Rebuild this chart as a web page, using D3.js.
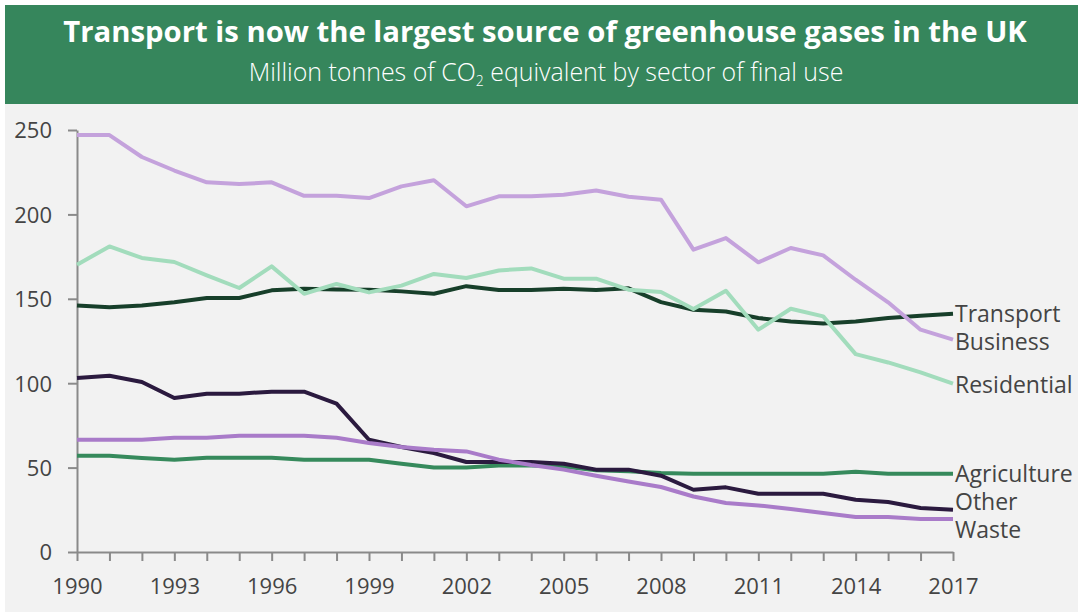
<html>
  <head>
    <title>UK greenhouse gases by sector</title>
    <script src="https://cdnjs.cloudflare.com/ajax/libs/d3/7.8.5/d3.min.js"></script>
    <meta name="viewport" content="initial-scale=1.0, width=device-width" />
  </head>
  <body>
    <svg id="chart"></svg>

    <style>
      body {
        margin: 0;
        background: #ffffff;
        font-family: 'Open Sans', sans-serif;
      }

      #chart {
        display: block;
      }

      .axis path, .axis line {
        stroke: #8a8a8a;
        stroke-width: 2px;
      }

      .axis text {
        fill: #444444;
        font-size: 22px;
        font-family: 'Open Sans', sans-serif;
      }

      .series {
        fill: none;
        stroke-width: 4px;
        stroke-linejoin: round;
      }

      .label {
        fill: #444444;
        font-size: 23px;
      }
    </style>

    <script>
      // Data (million tonnes CO2e)
      const years = d3.range(1990, 2018);
      const yTicks = [0, 50, 100, 150, 200, 250];
      const xTickLabels = [1990, 1993, 1996, 1999, 2002, 2005, 2008, 2011, 2014, 2017];

      const sectors = ['Transport', 'Business', 'Residential', 'Agriculture', 'Other', 'Waste'];
      const colors = ['#173f2a', '#c4a2dc', '#a2dcbc', '#368a5c', '#2b1a3f', '#a97bc9'];

      const transport = [146, 145, 146, 148, 150.5, 150.5, 155, 156, 155.5, 155.4, 154.4, 153, 157.5, 155.2,
                         155.2, 156, 155.2, 156.2, 148, 143.5, 142.5, 138.6, 136.6, 135.4, 136.6, 138.6, 140, 141.2];
      const business = [247, 247, 234, 226, 219, 218, 219, 211, 211, 209.7, 216.6, 220.2, 204.8, 210.7,
                        210.7, 211.7, 214.2, 210.5, 208.7, 179.1, 186, 171.6, 180.1, 175.7, 161.3, 147.9, 131.7, 125.8];
      const residential = [170.2, 181, 174.2, 171.8, 163.9, 156.4, 169.2, 153, 158.8, 153.8, 157.8, 164.7, 162.3, 166.8,
                           168, 161.9, 161.9, 155.4, 154, 144, 154.8, 131.7, 144.1, 139.6, 117.2, 112.3, 106.4, 99.7];
      const agriculture = [57, 57, 55.7, 54.7, 55.9, 55.9, 55.9, 54.7, 54.7, 54.7, 52.3, 50.1, 50.1, 51.3,
                           51.3, 50.7, 48.4, 47.8, 46.8, 46.4, 46.4, 46.4, 46.4, 46.4, 47.6, 46.4, 46.4, 46.4];
      const other = [103.1, 104.4, 100.7, 91.2, 93.8, 93.8, 95, 95, 87.9, 66.5, 62.2, 58.6, 53.3, 53.3,
                     53.3, 52.3, 48.8, 48.8, 45.2, 36.9, 38.3, 34.5, 34.5, 34.5, 31, 29.6, 26.1, 25.1];
      const waste = [66.5, 66.5, 66.5, 67.7, 67.7, 68.9, 68.9, 68.9, 67.7, 64.6, 62.2, 60.6, 59.6, 54.7,
                     51.5, 48.8, 45.2, 41.8, 38.5, 32.9, 29, 27.6, 25.5, 23.1, 20.7, 20.7, 19.5, 19.5];

      const seriesValues = [transport, business, residential, agriculture, other, waste];

      const W = 1078, H = 612;
      const svg = d3.select('#chart').attr('width', W).attr('height', H);

      // Panels
      svg.append('rect').attr('x', 5).attr('y', 104).attr('width', W - 5).attr('height', H - 104)
        .attr('fill', '#f2f2f2');
      svg.append('rect').attr('x', 5).attr('y', 5).attr('width', W - 5).attr('height', 99)
        .attr('fill', '#36865c');

      // Title, fitted to the banner width
      const title = svg.append('text')
        .attr('x', 545).attr('y', 42)
        .attr('text-anchor', 'middle')
        .attr('fill', '#ffffff')
        .style('font-weight', 700)
        .style('font-size', '25px')
        .text('Transport is now the largest source of greenhouse gases in the UK');
      const tw = title.node().getComputedTextLength();
      title.style('font-size', (25 * 964 / tw) + 'px');

      const sub = svg.append('text')
        .attr('x', 546).attr('y', 81)
        .attr('text-anchor', 'middle')
        .attr('fill', '#ffffff')
        .style('font-weight', 300)
        .style('font-size', '20px');
      sub.append('tspan').text('Million tonnes of CO');
      sub.append('tspan').attr('dy', 5).style('font-size', '14px').text('2');
      sub.append('tspan').attr('dy', -5).text(' equivalent by sector of final use');
      const sw = sub.node().getComputedTextLength();
      sub.style('font-size', (20 * 597 / sw) + 'px');

      // Scales
      const x = d3.scaleLinear().domain([1990, 2017]).range([77, 953]);
      const y = d3.scaleLinear().domain([0, 250]).range([552, 130]);

      const xAxis = d3.axisBottom(x)
        .tickValues(years)
        .tickSize(9)
        .tickPadding(10)
        .tickSizeOuter(0)
        .tickFormat(function(d) { return xTickLabels.includes(d) ? d : ''; });

      const yAxis = d3.axisLeft(y)
        .tickValues(yTicks)
        .tickSize(9)
        .tickPadding(16)
        .tickSizeOuter(0);

      svg.append('g')
        .attr('class', 'axis axis-x')
        .attr('transform', 'translate(0,' + y(0) + ')')
        .call(xAxis)
        .selectAll('text').attr('dy', '1.05em');

      svg.append('g')
        .attr('class', 'axis axis-y')
        .attr('transform', 'translate(' + x(1990) + ',0)')
        .call(yAxis)
        .selectAll('text').attr('dy', '0.36em');

      // Lines
      const line = d3.line()
        .x(function(d, i) { return x(years[i]); })
        .y(function(d) { return y(d); });

      svg.append('g')
        .selectAll('path')
        .data(seriesValues)
        .enter().append('path')
        .attr('class', 'series')
        .attr('d', line)
        .style('stroke', function(d, i) { return colors[i]; });

      // End labels, pushed apart so they don't overlap
      const labels = sectors.map(function(name, i) {
        const v = seriesValues[i][seriesValues[i].length - 1];
        return { name: name, pos: y(v) };
      }).sort(function(a, b) { return a.pos - b.pos; });

      const gap = 28;
      for (let k = 0; k < 30; k++) {
        for (let i = 1; i < labels.length; i++) {
          const overlap = gap - (labels[i].pos - labels[i - 1].pos);
          if (overlap > 0) {
            labels[i - 1].pos -= overlap / 2;
            labels[i].pos += overlap / 2;
          }
        }
      }

      svg.append('g')
        .selectAll('text')
        .data(labels)
        .enter().append('text')
        .attr('class', 'label')
        .attr('x', x(2017) + 2)
        .attr('y', function(d) { return d.pos; })
        .attr('dy', '0.4em')
        .text(function(d) { return d.name; });
    </script>
  </body>
</html>
